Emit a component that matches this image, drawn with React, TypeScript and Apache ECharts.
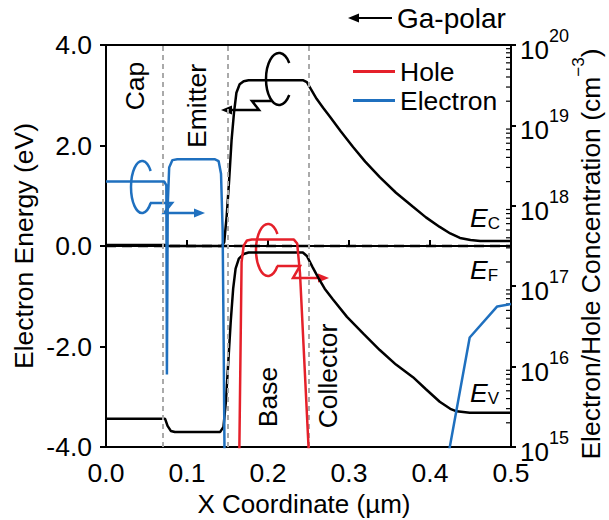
import React, { useEffect, useRef } from 'react';
import * as echarts from 'echarts';

const FONT = "'Liberation Sans', Arial, Helvetica, sans-serif";
const FS = 26.5;

// ---- axis ranges / ticks ----
const xRange = [0, 0.5];
const xInterval = 0.1;
const energyRange = [-4, 4];
const energyInterval = 2;
const concRange = [1e15, 1e20];
const concDecades = [15, 16, 17, 18, 19];
const minorMultipliers = [2, 3, 4, 5, 6, 7, 8, 9];

// ---- band diagram (x in µm, energy in eV) ----
const conductionBand: [number, number][] = [
  [0, 0.02], [0.073, 0.02], [0.077, 0.0], [0.143, 0.0], [0.146, 0.08], [0.149, 0.6],
  [0.152, 1.3], [0.155, 2.1], [0.158, 2.65], [0.161, 3.05], [0.165, 3.22], [0.17, 3.28],
  [0.176, 3.3], [0.243, 3.3], [0.248, 3.26], [0.253, 3.12], [0.26, 2.93], [0.268, 2.75],
  [0.2765, 2.57], [0.29, 2.28], [0.305, 1.97], [0.32, 1.68], [0.338, 1.37], [0.358, 1.06],
  [0.379, 0.78], [0.395, 0.57], [0.412, 0.38], [0.425, 0.25], [0.437, 0.16], [0.45, 0.12],
  [0.462, 0.1], [0.5, 0.1],
];
const valenceBand: [number, number][] = [
  [0, -3.44], [0.073, -3.44], [0.076, -3.58], [0.08, -3.68], [0.085, -3.7], [0.141, -3.7],
  [0.145, -3.6], [0.148, -3.1], [0.151, -2.3], [0.154, -1.5], [0.157, -0.85], [0.16, -0.45],
  [0.164, -0.25], [0.17, -0.16], [0.176, -0.13], [0.243, -0.13], [0.248, -0.2], [0.255, -0.42],
  [0.262, -0.63], [0.27, -0.85], [0.28, -1.06], [0.2975, -1.41], [0.318, -1.75], [0.338, -2.07],
  [0.358, -2.36], [0.379, -2.61], [0.395, -2.85], [0.412, -3.1], [0.425, -3.24], [0.433, -3.29],
  [0.449, -3.32], [0.5, -3.32],
];
const fermiLevel: [number, number][] = [[0, 0], [0.5, 0]];
const regionBoundaries = [0.075, 0.15, 0.25];

// ---- carrier concentrations (cm^-3) ----
const holeConc: [number, number][] = [
  [0.1643, 5e14], [0.1674, 2.0e17], [0.17, 3.2e17], [0.174, 3.7e17], [0.18, 3.8e17],
  [0.232, 3.8e17], [0.236, 3.4e17], [0.2395, 1.45e17], [0.2515, 5e14],
];
const electronConc: [number, number | null][] = [
  [0, 2.0e18], [0.072, 2.0e18], [0.0745, 1.8e18], [0.0752, 8e15], [0.0762, 1e18],
  [0.078, 3.0e18], [0.082, 3.7e18], [0.088, 3.8e18], [0.134, 3.8e18], [0.139, 3.6e18],
  [0.142, 2.5e18], [0.144, 5e17], [0.1455, 1e16], [0.147, 1e14], [0.3, null],
  [0.419, 5e14], [0.449, 2.3e16], [0.483, 5.6e16], [0.5, 6.0e16],
];

// ---- decorative icons (pixel space) ----
function cArc(cx: number, cy: number, rx: number, ry: number, gapDeg: number) {
  const t = (gapDeg * Math.PI) / 180;
  const x1 = cx + rx * Math.cos(t);
  const y1 = cy - ry * Math.sin(t);
  const y2 = cy + ry * Math.sin(t);
  return `M${x1} ${y1} A${rx} ${ry} 0 1 0 ${x1} ${y2}`;
}
const bluePath = cArc(142, 187, 11, 26, 38) + ' M150 203 L172 203 L164 213 L198 213';
const blackPath = cArc(279, 79, 13, 26, 38) + ' M273 101 L252 101 L259 110 L229 110';
const redPath = cArc(268, 250, 12, 26, 38) + ' M277 266 L300 266 L293 278 L320 278';
echarts.graphic.registerShape('spinBlue', echarts.graphic.extendPath(bluePath, {}));
echarts.graphic.registerShape('spinBlack', echarts.graphic.extendPath(blackPath, {}));
echarts.graphic.registerShape('spinRed', echarts.graphic.extendPath(redPath, {}));

const BLUE = '#1f70bf';
const RED = '#e5202a';

function arrowHead(tipX: number, tipY: number, dir: number, color: string) {
  return {
    type: 'polygon',
    silent: true,
    shape: { points: [[tipX, tipY], [tipX - dir * 11, tipY - 4.5], [tipX - dir * 11, tipY + 4.5]] },
    style: { fill: color },
  };
}

function rotText(text: string, x: number, y: number) {
  return {
    type: 'text',
    x, y, rotation: Math.PI / 2, silent: true,
    style: { text, fontSize: FS, fontFamily: FONT, fill: '#000', align: 'center', verticalAlign: 'middle' },
  };
}

function bandLabel(sub: string, x: number, y: number) {
  return {
    type: 'text', x, y, silent: true,
    style: {
      text: `{e|E}{s|${sub}}`,
      align: 'left', verticalAlign: 'middle',
      rich: {
        e: { fontSize: FS, fontStyle: 'italic', fontFamily: FONT, fill: '#000', lineHeight: 28 },
        s: { fontSize: 17, fontFamily: FONT, fill: '#000', lineHeight: 14, verticalAlign: 'bottom' },
      },
    },
  };
}

export default function App() {
  const ref = useRef<HTMLDivElement>(null);
  useEffect(() => {
    if (!ref.current) return;
    const chart = echarts.init(ref.current, null, { renderer: 'svg' });
    const minorTicks: [number, number][] = [];
    concDecades.forEach((d) => minorMultipliers.forEach((m) => minorTicks.push([xRange[1], m * Math.pow(10, d)])));
    const labelStyle = { color: '#000', fontSize: FS, fontFamily: FONT };
    chart.setOption({
      animation: false,
      backgroundColor: '#fff',
      grid: { left: 106, right: 98, top: 45, bottom: 73, show: true, borderColor: '#000', borderWidth: 2, backgroundColor: 'transparent' },
      legend: {
        data: ['Hole', 'Electron'], left: 348, top: 53, orient: 'vertical', icon: 'rect',
        itemWidth: 42, itemHeight: 3, itemGap: 2,
        textStyle: { fontSize: FS, color: '#000', fontFamily: FONT },
      },
      xAxis: {
        type: 'value', min: xRange[0], max: xRange[1], interval: xInterval,
        axisLine: { lineStyle: { color: '#000', width: 2 } },
        axisTick: { inside: true, length: 6, lineStyle: { color: '#000', width: 2 } },
        axisLabel: { ...labelStyle, lineHeight: 22, margin: 15, formatter: (v: number) => v.toFixed(1) },
        splitLine: { show: false },
      },
      yAxis: [
        {
          type: 'value', min: energyRange[0], max: energyRange[1], interval: energyInterval,
          axisLine: { show: true, lineStyle: { color: '#000', width: 2 } },
          axisTick: { show: true, length: 6, lineStyle: { color: '#000', width: 2 } },
          axisLabel: { ...labelStyle, margin: 14, formatter: (v: number) => v.toFixed(1) },
          splitLine: { show: false },
        },
        {
          type: 'log', logBase: 10, min: concRange[0], max: concRange[1], position: 'right',
          axisLine: { show: true, lineStyle: { color: '#000', width: 2 } },
          axisTick: { show: true, length: 5, lineStyle: { color: '#000', width: 2 } },
          axisLabel: {
            margin: 9,
            formatter: (v: number) => `{b|10}{s|${Math.round(Math.log10(v))}}`,
            rich: {
              b: { fontSize: 26, fontFamily: FONT, color: '#000', lineHeight: 36, verticalAlign: 'bottom' },
              s: { fontSize: 18, fontFamily: FONT, color: '#000', lineHeight: 17, verticalAlign: 'top' },
            },
          },
          splitLine: { show: false },
        },
      ],
      series: [
        {
          name: 'boundaries', type: 'line', data: [], silent: true,
          markLine: {
            silent: true, symbol: 'none', label: { show: false },
            lineStyle: { color: '#aaaaaa', width: 2, type: [5, 4] },
            data: regionBoundaries.map((x) => ({ xAxis: x })),
          },
        },
        {
          name: 'Ef', type: 'line', data: fermiLevel, showSymbol: false, silent: true,
          lineStyle: { color: '#000', width: 2.5, type: [10, 6] }, z: 3,
        },
        {
          name: 'Ec', type: 'line', data: conductionBand, showSymbol: false, silent: true,
          lineStyle: { color: '#000', width: 2.5 }, z: 4,
        },
        {
          name: 'Ev', type: 'line', data: valenceBand, showSymbol: false, silent: true,
          lineStyle: { color: '#000', width: 2.5 }, z: 4,
        },
        {
          name: 'Hole', type: 'line', yAxisIndex: 1, data: holeConc, showSymbol: false, silent: true,
          color: RED, lineStyle: { color: RED, width: 2.5 }, z: 5,
        },
        {
          name: 'Electron', type: 'line', yAxisIndex: 1, data: electronConc, showSymbol: false, silent: true,
          connectNulls: false, color: BLUE, lineStyle: { color: BLUE, width: 2.5 }, z: 5,
        },
        {
          name: 'minor', type: 'custom', yAxisIndex: 1, silent: true, clip: false,
          data: minorTicks, encode: { x: 0, y: 1 },
          renderItem: (params: any, api: any) => {
            const p = api.coord([api.value(0), api.value(1)]);
            return { type: 'line', shape: { x1: p[0] - 5, y1: p[1], x2: p[0], y2: p[1] }, style: { stroke: '#000', lineWidth: 1.2 } };
          },
        },
      ],
      graphic: [
        { type: 'text', x: 24, y: 246, rotation: Math.PI / 2, silent: true,
          style: { text: 'Electron Energy (eV)', fontSize: FS, fontFamily: FONT, fill: '#000', align: 'center', verticalAlign: 'middle' } },
        { type: 'text', x: 304, y: 504, silent: true,
          style: { text: 'X Coordinate (µm)', fontSize: 26, lineHeight: 22, fontFamily: FONT, fill: '#000', align: 'center', verticalAlign: 'middle' } },
        { type: 'text', x: 587, y: 254, rotation: Math.PI / 2, silent: true,
          style: {
            text: '{n|Electron/Hole Concentration (cm}{s|−3}{n|)}', align: 'center', verticalAlign: 'middle',
            rich: {
              n: { fontSize: FS, fontFamily: FONT, fill: '#000', lineHeight: 34, verticalAlign: 'bottom' },
              s: { fontSize: 17, fontFamily: FONT, fill: '#000', lineHeight: 16, verticalAlign: 'top' },
            },
          } },
        rotText('Cap', 135, 86),
        rotText('Emitter', 197, 106),
        rotText('Base', 268, 397),
        rotText('Collector', 328, 376),
        bandLabel('C', 470, 218),
        bandLabel('F', 470, 270),
        bandLabel('V', 470, 393),
        { type: 'line', silent: true, shape: { x1: 357, y1: 18, x2: 392, y2: 18 }, style: { stroke: '#000', lineWidth: 2 } },
        arrowHead(348, 18, -1, '#000'),
        { type: 'text', x: 397, y: 18, silent: true,
          style: { text: 'Ga-polar', fontSize: 28, fontFamily: FONT, fill: '#000', align: 'left', verticalAlign: 'middle' } },
        { type: 'spinBlue', x: 0, y: 0, silent: true, style: { stroke: BLUE, lineWidth: 2.5, fill: 'none' } },
        arrowHead(205, 213, 1, BLUE),
        { type: 'spinBlack', x: 0, y: 0, silent: true, style: { stroke: '#000', lineWidth: 2.5, fill: 'none' } },
        arrowHead(221, 110, -1, '#000'),
        { type: 'spinRed', x: 0, y: 0, silent: true, style: { stroke: RED, lineWidth: 2.5, fill: 'none' } },
        arrowHead(329, 278, 1, RED),
      ],
    });
    return () => chart.dispose();
  }, []);
  return <div ref={ref} style={{ position: 'absolute', left: 0, top: 0, width: 609, height: 520, background: '#fff' }} />;
}
